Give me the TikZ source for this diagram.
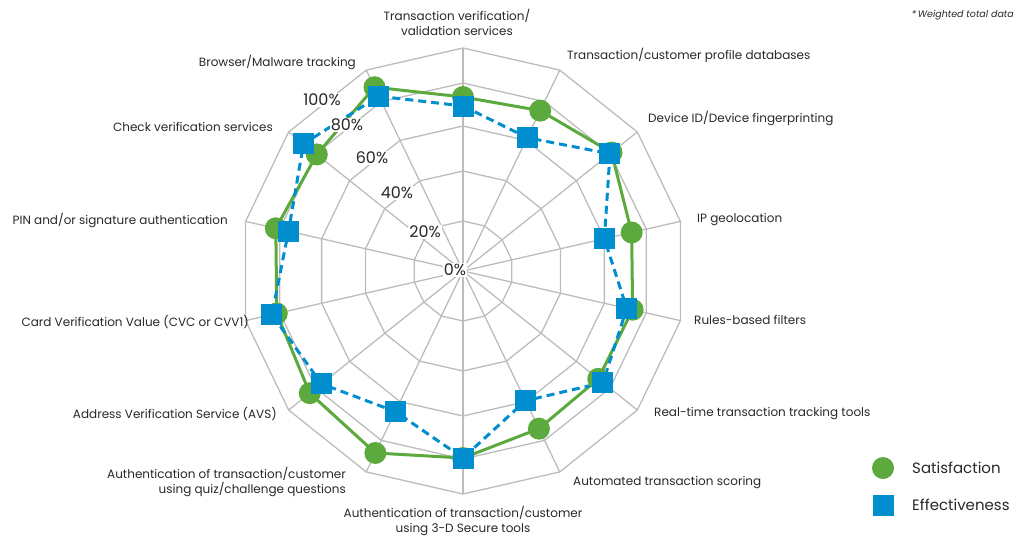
\documentclass[tikz,border=0pt]{standalone}
\usepackage{fontspec}
\setmainfont{Poppins}
\definecolor{satgreen}{RGB}{92,170,62}
\definecolor{effblue}{RGB}{0,142,206}
\definecolor{gridgray}{RGB}{188,188,188}
\definecolor{labelgray}{RGB}{40,40,40}

\begin{document}
\begin{tikzpicture}[
x=1pt,y=1pt,
grid/.style={draw=gridgray, line width=1.3pt},
axislabel/.style={font=\fontsize{12}{15}\selectfont, text=labelgray, inner sep=0pt},
pct/.style={font=\fontsize{16}{18}\selectfont, text=labelgray, fill=white, inner sep=1pt},
satline/.style={draw=satgreen, line width=3pt, line join=round},
effline/.style={draw=effblue, line width=3pt, dash pattern=on 8pt off 5pt},
satdot/.style={circle, fill=satgreen, minimum size=22pt, inner sep=0pt},
effbox/.style={rectangle, fill=effblue, minimum size=21pt, inner sep=0pt}
]
\useasboundingbox (-463,-265) rectangle (553,271);

% =======================
% GRID (RINGS + SPOKES)
% =======================

\foreach \r in {50,100,145,188,223}
  \draw[grid] (90:\r) \foreach \k in {1,...,13} {-- (90-\k*360/14:\r)} -- cycle;
\foreach \k in {0,...,13}
  \draw[grid] (0,0) -- (90-\k*360/14:223);

% =======================
% DATA LINES
% =======================

\foreach \k/\s/\e in {0/174/165, 1/178/148, 2/190/188, 3/173/145,
  4/174/168, 5/173/179, 6/175/144, 7/187/187, 8/202/156, 9/196/181,
  10/191/196, 11/192/179, 12/187/204, 13/204/194}{
  \coordinate (s\k) at (90-\k*360/14:\s);
  \coordinate (e\k) at (90-\k*360/14:\e);
}

\draw[satline] (s0) -- (s1) -- (s2) -- (s3) -- (s4) -- (s5) -- (s6)
  -- (s7) -- (s8) -- (s9) -- (s10) -- (s11) -- (s12) -- (s13) -- cycle;
\draw[effline] (e0) -- (e1) -- (e2) -- (e3) -- (e4) -- (e5) -- (e6)
  -- (e7) -- (e8) -- (e9) -- (e10) -- (e11) -- (e12) -- (e13) -- cycle;

% =======================
% SCALE LABELS
% =======================

\node[pct] (p0) at (-8,1) {0\%};
\node[pct] (p20) at (-38,39) {20\%};
\node[pct] (p40) at (-66,78) {40\%};
\node[pct] (p60) at (-91,113) {60\%};
\node[pct] (p80) at (-116,146) {80\%};
\node[pct] (p100) at (-141,171) {100\%};

% =======================
% MARKERS
% =======================

\foreach \k in {0,...,13} \node[satdot] (sd\k) at (s\k) {};
\foreach \k in {0,...,13} \node[effbox] (eb\k) at (e\k) {};

% =======================
% AXIS LABELS
% =======================

\node[axislabel, align=center] (verif) at (-6,249)
{Transaction verification/\\validation services};
\node[axislabel, anchor=west] (profile) at (104,216)
{Transaction/customer profile databases};
\node[axislabel, anchor=west] (device) at (185,153)
{Device ID/Device fingerprinting};
\node[axislabel, anchor=west] (ipgeo) at (234,51) {IP geolocation};
\node[axislabel, anchor=west] (rules) at (231,-49) {Rules-based filters};
\node[axislabel, anchor=west] (realtime) at (191,-143)
{Real-time transaction tracking tools};
\node[axislabel, anchor=west] (scoring) at (110,-212)
{Automated transaction scoring};
\node[axislabel, align=center] (secure) at (0,-250)
{Authentication of transaction/customer\\using 3-D Secure tools};
\node[axislabel, align=right, anchor=east] (quiz) at (-117,-211)
{Authentication of transaction/customer\\using quiz/challenge questions};
\node[axislabel, anchor=east] (avs) at (-186,-143)
{Address Verification Service (AVS)};
\node[axislabel, anchor=east] (cvc) at (-214,-51)
{Card Verification Value (CVC or CVV1)};
\node[axislabel, anchor=east] (pin) at (-235,51)
{PIN and/or signature authentication};
\node[axislabel, anchor=east] (check) at (-190,144)
{Check verification services};
\node[axislabel, anchor=east] (browser) at (-107,209)
{Browser/Malware tracking};

\node[axislabel, anchor=east, font=\fontsize{9.5}{11}\selectfont\itshape] (note)
at (551,256) {*\,Weighted total data};

% =======================
% LEGEND
% =======================

\node[satdot] (legsat) at (420,-197) {};
\node[axislabel, anchor=west, font=\fontsize{15}{17}\selectfont] (legsattxt)
at (449,-197) {Satisfaction};
\node[effbox] (legeff) at (420,-234) {};
\node[axislabel, anchor=west, font=\fontsize{15}{17}\selectfont] (legefftxt)
at (449,-234) {Effectiveness};

\end{tikzpicture}
\end{document}
